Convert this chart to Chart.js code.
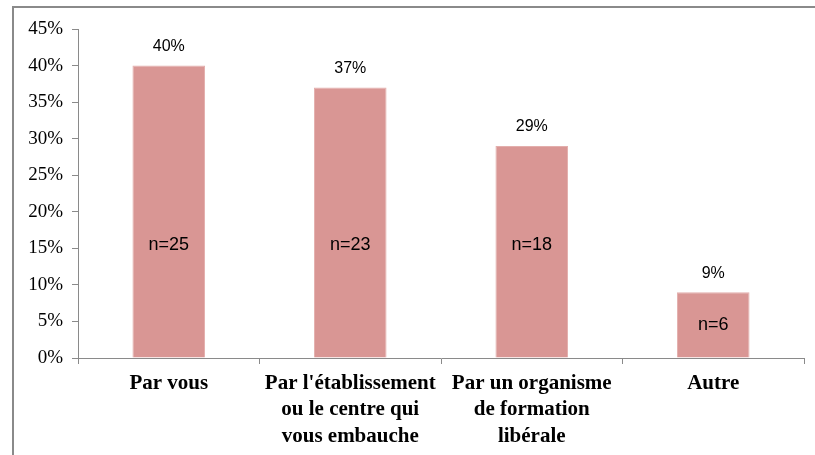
<!DOCTYPE html>
<html>
<head>
<meta charset="utf-8">
<script src="https://cdn.jsdelivr.net/npm/chart.js@4"></script>
<style>
  html, body { margin: 0; padding: 0; background: #fff; }
  #wrap { position: relative; width: 815px; height: 455px; }
</style>
</head>
<body>
<div id="wrap"><canvas id="myChart" width="815" height="455"></canvas></div>
<script>
const categories = [
  "Par vous",
  ["Par l'établissement", "ou le centre qui", "vous embauche"],
  ["Par un organisme", "de formation", "libérale"],
  "Autre",
];
const percents = [40, 37, 29, 9];
const counts = [25, 23, 18, 6];

// frame around the chart + value labels
const labelsPlugin = {
  id: "labels",
  beforeDraw(chart) {
    const c = chart.ctx;
    c.save();
    c.strokeStyle = "#8a8a8a";
    c.lineWidth = 2;
    c.beginPath();
    c.moveTo(13, 460);
    c.lineTo(13, 7);
    c.lineTo(820, 7);
    c.stroke();
    c.restore();
  },
  afterDatasetsDraw(chart) {
    const c = chart.ctx;
    const y = chart.scales.y;
    const meta = chart.getDatasetMeta(0);
    c.save();
    c.fillStyle = "#000";
    c.textAlign = "center";
    c.textBaseline = "middle";
    meta.data.forEach((bar, i) => {
      c.font = "16px 'Liberation Sans'";
      c.fillText(percents[i] + "%", bar.x, bar.y - 19);
      // n= label sits at ~15% on tall bars, mid-bar on short ones
      const mid = percents[i] > 20 ? 15.5 : percents[i] / 2;
      c.font = "18px 'Liberation Sans'";
      c.fillText("n=" + counts[i], bar.x, y.getPixelForValue(mid));
    });
    c.restore();
  },
};

const ctx = document.getElementById("myChart");

new Chart(ctx, {
  type: "bar",
  data: {
    labels: categories,
    datasets: [
      {
        data: percents,
        backgroundColor: "#D99694",
        borderColor: "#E3AEAC",
        borderWidth: 1,
        barPercentage: 0.4,
        categoryPercentage: 1,
      },
    ],
  },
  plugins: [labelsPlugin],
  options: {
    responsive: false,
    animation: false,
    events: [],
    layout: { padding: { top: 29, right: 11, left: 0, bottom: 0 } },
    plugins: {
      legend: { display: false },
      tooltip: { enabled: false },
    },
    scales: {
      x: {
        afterFit: (s) => { s.height = 97; },
        border: { color: "#8a8a8a", width: 1 },
        grid: {
          drawOnChartArea: false,
          tickLength: 6,
          color: "#8a8a8a",
          offset: true,
        },
        ticks: {
          color: "#000",
          padding: 6,
          maxRotation: 0,
          font: { family: "'Liberation Serif'", size: 21, weight: "bold", lineHeight: 1.26 },
        },
      },
      y: {
        min: 0,
        max: 45,
        afterFit: (s) => { s.width = 78; },
        border: { color: "#8a8a8a", width: 1 },
        grid: {
          drawOnChartArea: false,
          tickLength: 6,
          color: "#8a8a8a",
        },
        ticks: {
          stepSize: 5,
          color: "#000",
          padding: 9,
          font: { family: "'Liberation Serif'", size: 19 },
          callback: (v) => v + "%",
        },
      },
    },
  },
});
</script>
</body>
</html>
